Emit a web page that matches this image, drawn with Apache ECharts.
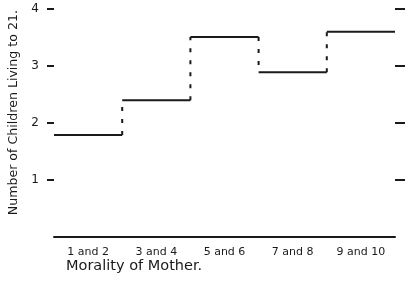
<!DOCTYPE html>
<html>
<head>
<meta charset="utf-8">
<script src="https://cdn.jsdelivr.net/npm/echarts@6/dist/echarts.min.js"></script>
<style>html,body{margin:0;padding:0;background:#fff}#c{width:420px;height:283px}</style>
</head>
<body>
<div id="c"></div>
<script>
var categories = ['1 and 2', '3 and 4', '5 and 6', '7 and 8', '9 and 10'];
var values = [1.79, 2.40, 3.51, 2.89, 3.60];
var yTicks = [1, 2, 3, 4];
var yTitle = 'Number of Children Living to 21.';
var xTitle = 'Morality of Mother.';

var ink = '#1a1a1a';
var font = 'DejaVu Sans';
var chart = echarts.init(document.getElementById('c'), null, {renderer: 'canvas'});
chart.setOption({
  animation: false,
  backgroundColor: '#fff',
  grid: {left: 54, right: 25, top: 9, bottom: 46},
  xAxis: {
    type: 'category', data: categories, boundaryGap: true,
    axisLine: {show: true, lineStyle: {color: ink, width: 2}},
    axisTick: {show: false},
    axisLabel: {color: ink, fontFamily: font, fontSize: 11, margin: 10}
  },
  yAxis: [{
    type: 'value', min: 0, max: 4, interval: 1, position: 'left',
    axisLine: {show: false},
    axisTick: {show: true, length: 7, customValues: yTicks, lineStyle: {color: ink, width: 2}},
    axisLabel: {color: ink, fontFamily: font, fontSize: 12, margin: 15, customValues: yTicks},
    splitLine: {show: false}
  }, {
    type: 'value', min: 0, max: 4, interval: 1, position: 'right',
    axisLine: {show: false},
    axisTick: {show: true, length: 10, customValues: yTicks, lineStyle: {color: ink, width: 2}},
    axisLabel: {show: false},
    splitLine: {show: false}
  }],
  graphic: [{
    type: 'text', left: 7, top: 10, rotation: Math.PI / 2,
    style: {text: yTitle, fill: ink, font: '12.6px "DejaVu Sans"'}
  }, {
    type: 'text', left: 66, top: 259,
    style: {text: xTitle, fill: ink, font: '14.5px "DejaVu Sans"'}
  }],
  series: [{
    type: 'custom',
    coordinateSystem: 'cartesian2d',
    data: values.map(function (v, i) { return [i, v]; }),
    renderItem: function (params, api) {
      var i = api.value(0), v = api.value(1);
      var p = api.coord([i, v]);
      var bw = api.size([1, 0])[0];
      var children = [{
        type: 'line',
        shape: {x1: p[0] - bw / 2, y1: p[1], x2: p[0] + bw / 2, y2: p[1]},
        style: {stroke: ink, lineWidth: 2}
      }];
      if (params.dataIndex > 0) {
        var q = api.coord([i, values[params.dataIndex - 1]]);
        children.push({
          type: 'line',
          shape: {x1: p[0] - bw / 2, y1: q[1], x2: p[0] - bw / 2, y2: p[1]},
          style: {stroke: ink, lineWidth: 2, lineDash: [4, 8]}
        });
      }
      return {type: 'group', children: children};
    }
  }]
});
</script>
</body>
</html>
